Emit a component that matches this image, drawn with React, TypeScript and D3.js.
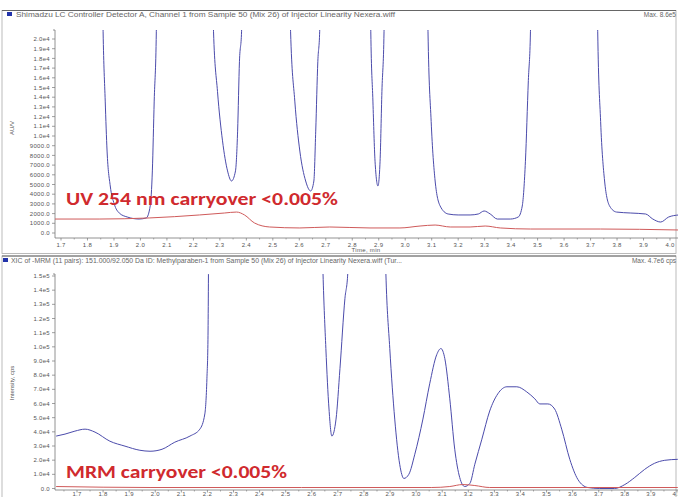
import React from "react";
import * as d3 from "d3";

// ---------- Data ----------
const xTickValues = [1.7, 1.8, 1.9, 2.0, 2.1, 2.2, 2.3, 2.4, 2.5, 2.6, 2.7, 2.8, 2.9, 3.0, 3.1, 3.2, 3.3, 3.4, 3.5, 3.6, 3.7, 3.8, 3.9, 4.0];
const xTickLabels = ["1.7", "1.8", "1.9", "2.0", "2.1", "2.2", "2.3", "2.4", "2.5", "2.6", "2.7", "2.8", "2.9", "3.0", "3.1", "3.2", "3.3", "3.4", "3.5", "3.6", "3.7", "3.8", "3.9", "4.0"];

const uvYTickValues = [0, 1000, 2000, 3000, 4000, 5000, 6000, 7000, 8000, 9000, 10000, 11000, 12000, 13000, 14000, 15000, 16000, 17000, 18000, 19000, 20000];
const uvYTickLabels = ["0.0", "1000.0", "2000.0", "3000.0", "4000.0", "5000.0", "6000.0", "7000.0", "8000.0", "9000.0", "1.0e4", "1.1e4", "1.2e4", "1.3e4", "1.4e4", "1.5e4", "1.6e4", "1.7e4", "1.8e4", "1.9e4", "2.0e4"];

const mrmYTickValues = [0, 10000, 20000, 30000, 40000, 50000, 60000, 70000, 80000, 90000, 100000, 110000, 120000, 130000, 140000, 150000];
const mrmYTickLabels = ["0.0", "1.0e4", "2.0e4", "3.0e4", "4.0e4", "5.0e4", "6.0e4", "7.0e4", "8.0e4", "9.0e4", "1.0e5", "1.1e5", "1.2e5", "1.3e5", "1.4e5", "1.5e5"];

// UV trace: sample (blue), time in min
const uvSampleTime = [1.844, 1.859, 1.867, 1.874, 1.886, 1.901, 1.920, 1.950, 1.995, 2.022, 2.037, 2.045, 2.052, 2.060, 2.071,
  2.261, 2.276, 2.291, 2.310, 2.329, 2.344, 2.359, 2.367, 2.374, 2.382, 2.393,
  2.552, 2.567, 2.583, 2.602, 2.624, 2.643, 2.655, 2.662, 2.670, 2.677, 2.689,
  2.859, 2.870, 2.878, 2.886, 2.897, 2.905, 2.912, 2.920, 2.931,
  3.075, 3.086, 3.098, 3.113, 3.132, 3.162, 3.200, 3.245, 3.276, 3.298, 3.321, 3.348, 3.397, 3.427, 3.442, 3.454, 3.465, 3.473, 3.484,
  3.715, 3.727, 3.738, 3.753, 3.772, 3.798, 3.852, 3.908, 3.935, 3.965, 3.995, 4.033];
const uvSampleValue = [60000, 20800, 13600, 8450, 4850, 3000, 2060, 1650, 1440, 1550, 2800, 6400, 13600, 20800, 60000,
  60000, 20800, 14600, 9500, 6400, 5360, 6400, 10500, 17700, 20800, 60000,
  60000, 20800, 13600, 8450, 5360, 4330, 5360, 10500, 17700, 20800, 60000,
  60000, 20800, 13600, 7400, 4850, 7400, 14600, 20800, 60000,
  60000, 20800, 11500, 5360, 2780, 1960, 1860, 1860, 1960, 2270, 1960, 1440, 1440, 1650, 2780, 7400, 15700, 20800, 60000,
  60000, 20800, 11500, 5360, 2780, 2160, 2060, 1960, 1440, 1130, 1650, 1860];

// UV trace: carryover blank (red)
const uvBlankTime = [1.677, 1.844, 2.033, 2.223, 2.317, 2.363, 2.393, 2.431, 2.488, 2.602, 2.715, 2.867, 2.980, 3.056, 3.113, 3.170, 3.245, 3.302, 3.359, 3.473, 3.738, 4.033];
const uvBlankValue = [1440, 1440, 1550, 1860, 2060, 2160, 1860, 1030, 620, 520, 620, 520, 520, 720, 820, 620, 620, 720, 520, 410, 410, 310];

// MRM trace: sample (blue)
const mrmSampleTime = [1.620, 1.654, 1.692, 1.731, 1.769, 1.826, 1.884, 1.941, 1.980, 2.026, 2.075, 2.133, 2.171, 2.190, 2.198, 2.202, 2.208,
  2.631, 2.643, 2.654, 2.666, 2.677, 2.693, 2.708, 2.727, 2.738, 2.750,
  2.872, 2.884, 2.899, 2.918, 2.937, 2.953, 2.972, 2.995, 3.026, 3.052, 3.079, 3.095, 3.110, 3.129, 3.148, 3.167, 3.186, 3.206, 3.225,
  3.252, 3.282, 3.313, 3.348, 3.386, 3.424, 3.455, 3.474, 3.505, 3.531, 3.558, 3.589, 3.620, 3.658, 3.704, 3.761, 3.800, 3.838, 3.876, 3.914, 3.953, 4.003];
const mrmSampleValue = [37000, 38400, 40500, 41900, 39800, 33400, 29900, 27000, 26300, 27700, 32700, 37000, 41900, 52600, 77500, 105000, 250000,
  250000, 152000, 98800, 56100, 37000, 49000, 84600, 134000, 152000, 250000,
  250000, 152000, 98800, 49000, 17100, 7100, 10000, 24200, 49000, 73900, 94500, 98800, 91700, 63300, 27700, 7800, 1400, 3600, 17100,
  34800, 54700, 66800, 71800, 71800, 68200, 63300, 59700, 59700, 56100, 41900, 20600, 6400, 700, 0, 0, 2800, 7800, 13500, 17800, 19900, 20600];

// MRM trace: carryover blank (red)
const mrmBlankTime = [1.620, 1.980, 2.560, 3.060, 3.129, 3.179, 3.225, 3.282, 4.003];
const mrmBlankValue = [1400, 700, 700, 700, 1400, 2800, 2100, 700, 700];

// ---------- Layout ----------
const W = 678;
const H = 497;
const AXIS_COLOR = "#777";
const LABEL_COLOR = "#555";
const BLUE = "#4b4bab";
const RED = "#cf5a5a";
const TEXT_RED = "#d02a2e";
const SMALL_FONT = "'Liberation Sans', Arial, sans-serif";

type PanelProps = {
  id: string;
  left: number;
  right: number;
  top: number;
  bottom: number;
  xRange: [number, number];
  yRange: [number, number];
  yDomainMax: number;
  yTicks: number[];
  yLabels: string[];
  sampleT: number[];
  sampleV: number[];
  blankT: number[];
  blankV: number[];
  showTimeLabel: boolean;
  labelOffset: number;
  yTitle: string;
  yTitleY: number;
};

function Panel(p: PanelProps) {
  const x = d3.scaleLinear().domain([1.7, 4.0]).range(p.xRange);
  const y = d3.scaleLinear().domain([0, p.yDomainMax]).range(p.yRange);
  const line = d3
    .line<[number, number]>()
    .x((d) => x(d[0]))
    .y((d) => y(d[1]))
    .curve(d3.curveMonotoneX);
  const sample = p.sampleT.map((t, i) => [t, p.sampleV[i]] as [number, number]);
  const blank = p.blankT.map((t, i) => [t, p.blankV[i]] as [number, number]);
  const minorTicks = d3.range(1.65, 4.06, 0.1).map((v) => +v.toFixed(2));
  return (
    <g>
      <defs>
        <clipPath id={p.id}>
          <rect x={p.left} y={p.top} width={p.right - p.left} height={p.bottom - p.top + 2} />
        </clipPath>
      </defs>
      <line x1={p.left} x2={p.left} y1={p.top} y2={p.bottom} stroke={AXIS_COLOR} strokeWidth={0.8} />
      <line x1={p.left} x2={p.right} y1={p.bottom} y2={p.bottom} stroke={AXIS_COLOR} strokeWidth={0.8} />
      <path d={`M${p.left - 2},${p.top}h2`} stroke={AXIS_COLOR} strokeWidth={0.8} />
      {p.yTicks.map((v, i) => (
        <g key={"y" + i}>
          <line x1={p.left - 3} x2={p.left} y1={y(v)} y2={y(v)} stroke={AXIS_COLOR} strokeWidth={0.7} />
          <text x={p.left - 5} y={y(v)} dy="0.35em" textAnchor="end" fontSize={6} fill={LABEL_COLOR} fontFamily={SMALL_FONT} letterSpacing={0.3}>
            {p.yLabels[i]}
          </text>
        </g>
      ))}
      {xTickValues.map((v, i) => (
        <g key={"x" + i}>
          <line x1={x(v)} x2={x(v)} y1={p.bottom} y2={p.bottom + 2.5} stroke={AXIS_COLOR} strokeWidth={0.7} />
          <text x={x(v)} y={p.bottom + p.labelOffset} textAnchor="middle" fontSize={6} fill={LABEL_COLOR} fontFamily={SMALL_FONT} letterSpacing={0.3}>
            {xTickLabels[i]}
          </text>
        </g>
      ))}
      {minorTicks.map((v, i) =>
        x(v) > p.left && x(v) < p.right ? (
          <line key={"m" + i} x1={x(v)} x2={x(v)} y1={p.bottom} y2={p.bottom + 1.5} stroke={AXIS_COLOR} strokeWidth={0.6} />
        ) : null
      )}
      {p.showTimeLabel && (
        <text x={366} y={p.bottom + 13.5} textAnchor="middle" fontSize={6} fill={LABEL_COLOR} fontFamily={SMALL_FONT} letterSpacing={0.3}>
          Time, min
        </text>
      )}
      <text
        transform={`translate(14,${p.yTitleY}) rotate(-90)`}
        textAnchor="middle"
        fontSize={6}
        fill={LABEL_COLOR}
        fontFamily={SMALL_FONT}
      >
        {p.yTitle}
      </text>
      <g clipPath={`url(#${p.id})`}>
        <path d={line(sample) || ""} fill="none" stroke={BLUE} strokeWidth={1} />
        <path d={line(blank) || ""} fill="none" stroke={RED} strokeWidth={1} />
      </g>
    </g>
  );
}

export default function App() {
  return (
    <svg
      width={W}
      height={H}
      viewBox={`0 0 ${W} ${H}`}
      style={{ position: "absolute", left: 0, top: 0, background: "#fff" }}
    >
      <rect x={0} y={0} width={W} height={H} fill="#fff" />
      <rect x={2} y={10.5} width={674} height={243} fill="none" stroke="#aaa" strokeWidth={0.8} />
      <line x1={2} x2={676} y1={10.5} y2={10.5} stroke="#666" strokeWidth={1} />
      <rect x={2} y={256} width={674} height={250} fill="none" stroke="#aaa" strokeWidth={0.8} />
      <line x1={2} x2={676} y1={256} y2={256} stroke="#666" strokeWidth={1} />

      <rect x={7} y={12} width={5} height={4} fill="#2233aa" />
      <text x={16} y={17} fontSize={6.5} fill="#666" fontFamily={SMALL_FONT} textLength={379} lengthAdjust="spacingAndGlyphs">
        Shimadzu LC Controller Detector A, Channel 1 from Sample 50 (Mix 26) of Injector Linearity Nexera.wiff
      </text>
      <text x={676} y={17} textAnchor="end" fontSize={6.5} fill="#666" fontFamily={SMALL_FONT}>
        Max. 8.6e5
      </text>

      <rect x={3} y={258} width={5} height={4} fill="#2233aa" />
      <text x={11} y={263} fontSize={6.5} fill="#666" fontFamily={SMALL_FONT} textLength={391} lengthAdjust="spacingAndGlyphs">
        XIC of -MRM (11 pairs): 151.000/92.050 Da ID: Methylparaben-1 from Sample 50 (Mix 26) of Injector Linearity Nexera.wiff (Tur...
      </text>
      <text x={676} y={263} textAnchor="end" fontSize={6.5} fill="#666" fontFamily={SMALL_FONT}>
        Max. 4.7e6 cps
      </text>

      <Panel
        id="clipTop"
        left={55}
        right={678}
        top={30}
        bottom={238}
        xRange={[61, 670]}
        yRange={[233, 39]}
        yDomainMax={20000}
        yTicks={uvYTickValues}
        yLabels={uvYTickLabels}
        sampleT={uvSampleTime}
        sampleV={uvSampleValue}
        blankT={uvBlankTime}
        blankV={uvBlankValue}
        showTimeLabel={true}
        labelOffset={8.5}
        yTitle="AU/V"
        yTitleY={128}
      />
      <Panel
        id="clipBottom"
        left={55}
        right={678}
        top={274}
        bottom={490}
        xRange={[77, 677]}
        yRange={[488.5, 276]}
        yDomainMax={150000}
        yTicks={mrmYTickValues}
        yLabels={mrmYTickLabels}
        sampleT={mrmSampleTime}
        sampleV={mrmSampleValue}
        blankT={mrmBlankTime}
        blankV={mrmBlankValue}
        showTimeLabel={false}
        labelOffset={6.3}
        yTitle="Intensity, cps"
        yTitleY={383}
      />

      <text x={66} y={205} fontSize={19} fontWeight="bold" fill={TEXT_RED} fontFamily="Carlito, 'Liberation Sans', Arial, sans-serif" textLength={272} lengthAdjust="spacingAndGlyphs">
        UV 254 nm carryover &lt;0.005%
      </text>
      <text x={66} y={478} fontSize={19} fontWeight="bold" fill={TEXT_RED} fontFamily="Carlito, 'Liberation Sans', Arial, sans-serif" textLength={221} lengthAdjust="spacingAndGlyphs">
        MRM carryover &lt;0.005%
      </text>
    </svg>
  );
}
